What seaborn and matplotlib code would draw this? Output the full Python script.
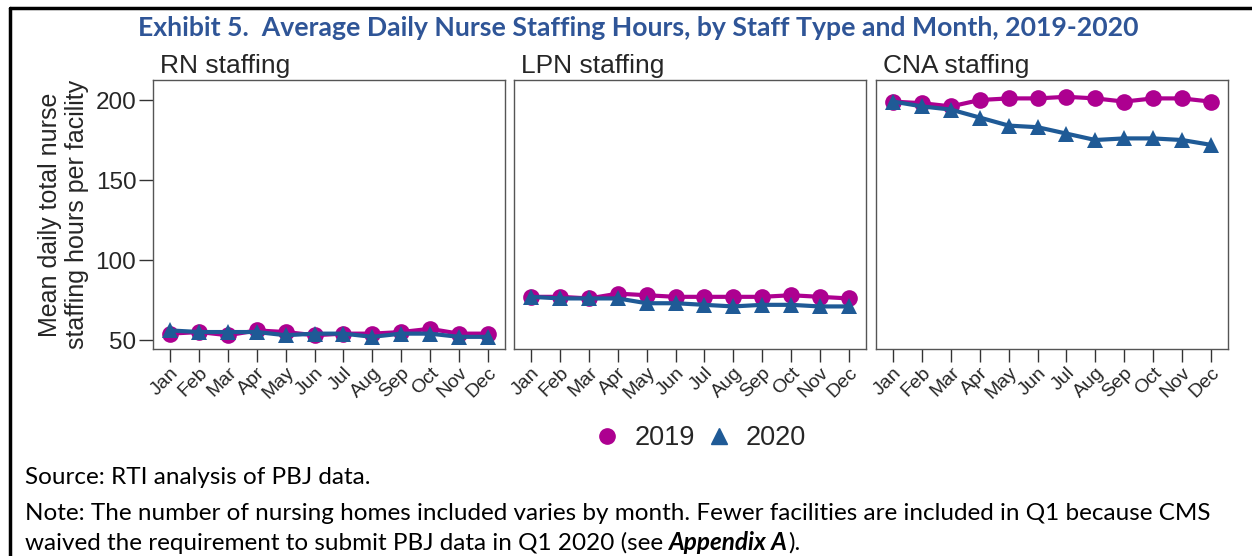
import pandas as pd
import seaborn as sns
import matplotlib.pyplot as plt
from matplotlib.lines import Line2D

months = ["Jan", "Feb", "Mar", "Apr", "May", "Jun", "Jul", "Aug", "Sep", "Oct", "Nov", "Dec"]
panels = ["RN staffing", "LPN staffing", "CNA staffing"]

rn_2019 = [54, 55, 53, 56, 55, 53, 54, 54, 55, 57, 54, 54]
rn_2020 = [56, 55, 55, 55, 53, 54, 54, 52, 54, 54, 52, 52]
lpn_2019 = [77, 77, 76, 79, 78, 77, 77, 77, 77, 78, 77, 76]
lpn_2020 = [77, 76, 76, 76, 73, 73, 72, 71, 72, 72, 71, 71]
cna_2019 = [199, 198, 196, 200, 201, 201, 202, 201, 199, 201, 201, 199]
cna_2020 = [199, 196, 194, 189, 184, 183, 179, 175, 176, 176, 175, 172]

yticks = [50, 100, 150, 200]
years = ["2019", "2020"]
colors = {"2019": "#AD0090", "2020": "#1F5A96"}
markers = {"2019": "o", "2020": "^"}

series = {
    "RN staffing": (rn_2019, rn_2020),
    "LPN staffing": (lpn_2019, lpn_2020),
    "CNA staffing": (cna_2019, cna_2020),
}

rows = []
for panel in panels:
    for year, vals in zip(years, series[panel]):
        for i, v in enumerate(vals):
            rows.append({"panel": panel, "year": year, "month": i, "hours": v})
df = pd.DataFrame(rows)

sns.set_style("white")
plt.rcParams["font.family"] = ["Liberation Sans", "DejaVu Sans"]

fig = plt.figure(figsize=(12.52, 5.56), dpi=100)

lefts = [153, 514, 876]
for k, panel in enumerate(panels):
    ax = fig.add_axes([lefts[k] / 1252, (556 - 349) / 556, 352 / 1252, 269 / 556])
    sub = df[df["panel"] == panel]
    sns.lineplot(data=sub, x="month", y="hours", hue="year", style="year",
                 palette=colors, markers=markers, dashes=False, linewidth=3,
                 markersize=12, markeredgewidth=0, ax=ax, legend=False)
    ax.set_xlim(-0.6, 11.6)
    ax.set_ylim(44.4, 212.5)
    ax.set_xticks(range(12))
    ax.set_xticklabels(months, rotation=45, ha="right", rotation_mode="anchor", fontsize=14)
    ax.tick_params(axis="x", length=9, width=1, color="#333333", bottom=True, pad=2)
    ax.set_xlabel("")
    ax.set_ylabel("")
    if k == 0:
        ax.set_yticks(yticks)
        ax.set_yticklabels([str(t) for t in yticks], fontsize=17.5)
        ax.tick_params(axis="y", length=10, width=1, color="#333333", left=True, pad=2)
        ax.set_ylabel("Mean daily total nurse\nstaffing hours per facility", fontsize=18,
                      labelpad=5, linespacing=1.15)
    else:
        ax.set_yticks([])
    for s in ax.spines.values():
        s.set_color("#555555")
        s.set_linewidth(1)
    ax.set_title(panel, loc="left", fontsize=19, pad=5, x=0.02)

fig.text(638 / 1252, 1 - 28 / 556, "Exhibit 5.  Average Daily Nurse Staffing Hours, by Staff Type and Month, 2019-2020",
         ha="center", va="center", fontsize=19.2, fontweight="bold", color="#2F5597", family="Lato")

handles = [Line2D([], [], linestyle="none", marker=markers[y], color=colors[y], markersize=11) for y in years]
fig.legend(handles, years, loc="center", bbox_to_anchor=(700 / 1252, 1 - 438 / 556), ncol=2,
           frameon=False, fontsize=19.5, handlelength=1, handletextpad=0.5, columnspacing=0.4)

note_kw = dict(fontsize=17.5, family="Lato", va="center", ha="left", color="black")
fig.text(25 / 1252, 1 - 478 / 556, "Source: RTI analysis of PBJ data.", **note_kw)
fig.text(25 / 1252, 1 - 513 / 556,
         "Note: The number of nursing homes included varies by month. Fewer facilities are included in Q1 because CMS",
         **note_kw)
t1 = fig.text(25 / 1252, 1 - 543 / 556, "waived the requirement to submit PBJ data in Q1 2020 (see ", **note_kw)
fig.canvas.draw()
r = fig.canvas.get_renderer()
x1 = t1.get_window_extent(r).x1 / fig.bbox.width
t2 = fig.text(x1, 1 - 543 / 556, "Appendix A", fontweight="bold", fontstyle="italic", **note_kw)
fig.canvas.draw()
x2 = t2.get_window_extent(r).x1 / fig.bbox.width
fig.text(x2, 1 - 543 / 556, ").", **note_kw)

# frame lines of the exhibit box
fig.add_artist(Line2D([10 / 1252, 1], [1 - 8 / 556, 1 - 8 / 556], color="black", linewidth=2.5))
fig.add_artist(Line2D([10 / 1252, 10 / 1252], [0, 1 - 8 / 556], color="black", linewidth=2.5))

fig.savefig("out.png", dpi=100)
